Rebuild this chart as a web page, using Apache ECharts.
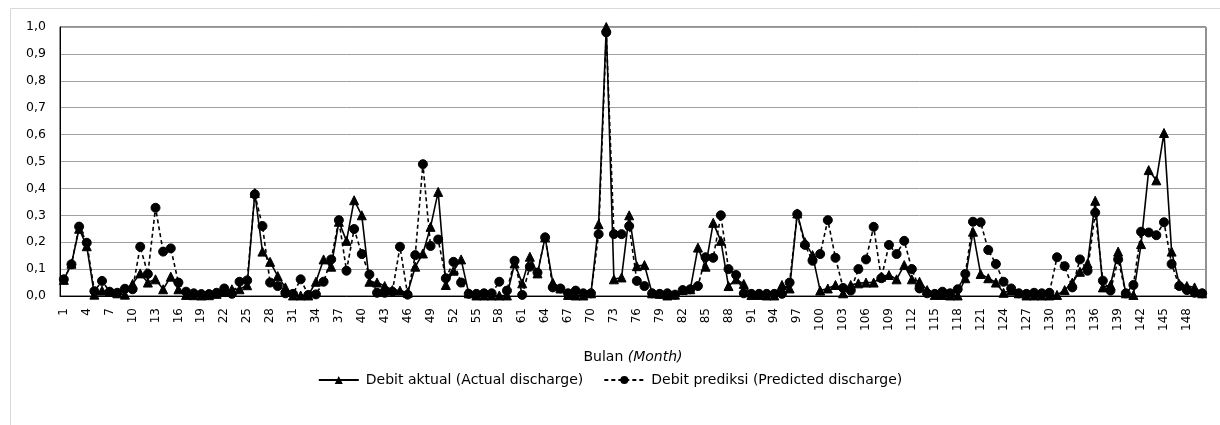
<!DOCTYPE html>
<html>
<head>
<meta charset="utf-8">
<script src="https://cdn.jsdelivr.net/npm/echarts@6/dist/echarts.min.js"></script>
<style>
html,body{margin:0;padding:0;background:#fff;}
#chart{width:1220px;height:425px;}
</style>
</head>
<body>
<div id="chart"></div>
<script>
// Months 1..150
var months = [];
for (var m = 1; m <= 150; m++) months.push(String(m));

var yTicks = ['0,0','0,1','0,2','0,3','0,4','0,5','0,6','0,7','0,8','0,9','1,0'];

var actualName = 'Debit aktual (Actual discharge)';
var predictedName = 'Debit prediksi (Predicted discharge)';

var actual = [
0.06,0.12,0.25,0.185,0.005,0.02,0.015,0.01,0.005,0.045,
0.084,0.05,0.062,0.025,0.072,0.025,0.004,0.003,0.002,0.003,
0.008,0.016,0.025,0.025,0.04,0.383,0.165,0.127,0.074,0.032,
0.002,0.002,0.002,0.053,0.136,0.109,0.276,0.205,0.356,0.3,
0.053,0.05,0.037,0.022,0.02,0.012,0.109,0.158,0.257,0.387,
0.041,0.094,0.136,0.01,0.002,0.002,0.002,0.002,0.002,0.121,
0.047,0.146,0.084,0.218,0.05,0.028,0.004,0.002,0.002,0.01,
0.267,1.0,0.062,0.069,0.3,0.111,0.115,0.01,0.008,0.002,
0.005,0.022,0.025,0.18,0.109,0.272,0.205,0.037,0.062,0.045,
0.004,0.004,0.002,0.002,0.041,0.028,0.307,0.2,0.152,0.02,
0.028,0.041,0.01,0.041,0.047,0.05,0.05,0.072,0.078,0.062,
0.115,0.062,0.053,0.022,0.004,0.004,0.002,0.002,0.066,0.239,
0.082,0.066,0.05,0.012,0.02,0.01,0.002,0.002,0.002,0.002,
0.004,0.022,0.05,0.09,0.121,0.354,0.032,0.041,0.165,0.01,
0.004,0.193,0.468,0.43,0.606,0.165,0.045,0.037,0.032,0.01
];

var predicted = [
0.062,0.118,0.258,0.198,0.018,0.056,0.016,0.012,0.027,0.025,
0.183,0.082,0.328,0.165,0.177,0.05,0.016,0.01,0.007,0.007,
0.012,0.028,0.008,0.053,0.058,0.378,0.26,0.05,0.037,0.01,
0.008,0.062,0.004,0.006,0.053,0.136,0.282,0.094,0.249,0.156,
0.08,0.012,0.012,0.016,0.183,0.005,0.152,0.49,0.186,0.21,
0.066,0.127,0.05,0.008,0.008,0.01,0.01,0.053,0.02,0.131,
0.004,0.109,0.087,0.218,0.032,0.028,0.01,0.02,0.01,0.01,
0.23,0.98,0.23,0.23,0.26,0.056,0.037,0.01,0.008,0.01,
0.005,0.022,0.025,0.037,0.144,0.142,0.3,0.1,0.078,0.01,
0.008,0.008,0.008,0.008,0.008,0.05,0.304,0.19,0.131,0.156,
0.282,0.142,0.03,0.02,0.1,0.136,0.257,0.066,0.19,0.156,
0.205,0.1,0.028,0.01,0.008,0.016,0.01,0.025,0.082,0.276,
0.274,0.171,0.119,0.053,0.028,0.01,0.008,0.012,0.01,0.012,
0.144,0.111,0.032,0.136,0.094,0.31,0.057,0.02,0.136,0.01,
0.041,0.239,0.236,0.226,0.274,0.119,0.037,0.022,0.012,0.01
];

var chart = echarts.init(document.getElementById('chart'), null, {renderer:'canvas'});
var FONT = 'DejaVu Sans';

chart.setOption({
  animation: false,
  backgroundColor: '#fff',
  graphic: [{
    type: 'rect', silent: true,
    shape: {x: 10.5, y: 8.5, width: 1230, height: 440},
    style: {fill: 'none', stroke: '#d9d9d9', lineWidth: 1}
  }],
  grid: {
    left: 60, right: 14, top: 27, bottom: 129,
    show: true, borderColor: '#222', borderWidth: 1, backgroundColor: 'transparent'
  },
  legend: {
    top: 368,
    left: 'center',
    itemWidth: 40,
    itemHeight: 10,
    itemGap: 20,
    textStyle: {fontFamily: FONT, fontSize: 14, color: '#000', padding: [0,0,0,2]},
    data: [actualName, predictedName]
  },
  xAxis: {
    type: 'category',
    data: months,
    boundaryGap: true,
    name: 'Bulan {it|(Month)}',
    nameLocation: 'middle',
    nameGap: 54,
    nameTextStyle: {
      fontFamily: FONT, fontSize: 14, color: '#000',
      rich: {it: {fontFamily: FONT, fontSize: 14, fontStyle: 'italic', color: '#000'}}
    },
    axisLine: {show: true, lineStyle: {color: '#000', width: 1}},
    axisTick: {show: false},
    axisLabel: {
      interval: 2, rotate: 90, margin: 12,
      fontFamily: FONT, fontSize: 12, color: '#000'
    },
    splitLine: {show: false}
  },
  yAxis: {
    type: 'value',
    min: 0, max: 1, interval: 0.1,
    axisLine: {show: true, lineStyle: {color: '#000', width: 1}},
    axisTick: {show: false},
    axisLabel: {
      margin: 14, fontFamily: FONT, fontSize: 12.5, color: '#000',
      formatter: function (v) { return yTicks[Math.round(v * 10)]; }
    },
    splitLine: {show: true, lineStyle: {color: '#a0a0a0', width: 1}}
  },
  series: [
    {
      name: actualName,
      type: 'line',
      data: actual,
      symbol: 'triangle',
      symbolSize: 9,
      showAllSymbol: true,
      lineStyle: {color: '#000', width: 1.6, type: 'solid'},
      itemStyle: {color: '#000', borderColor: '#000'},
      z: 3
    },
    {
      name: predictedName,
      type: 'line',
      data: predicted,
      symbol: 'circle',
      symbolSize: 9,
      showAllSymbol: true,
      lineStyle: {color: '#000', width: 1.6, type: [4, 3]},
      itemStyle: {color: '#000', borderColor: '#000'},
      z: 2
    }
  ]
});
</script>
</body>
</html>
